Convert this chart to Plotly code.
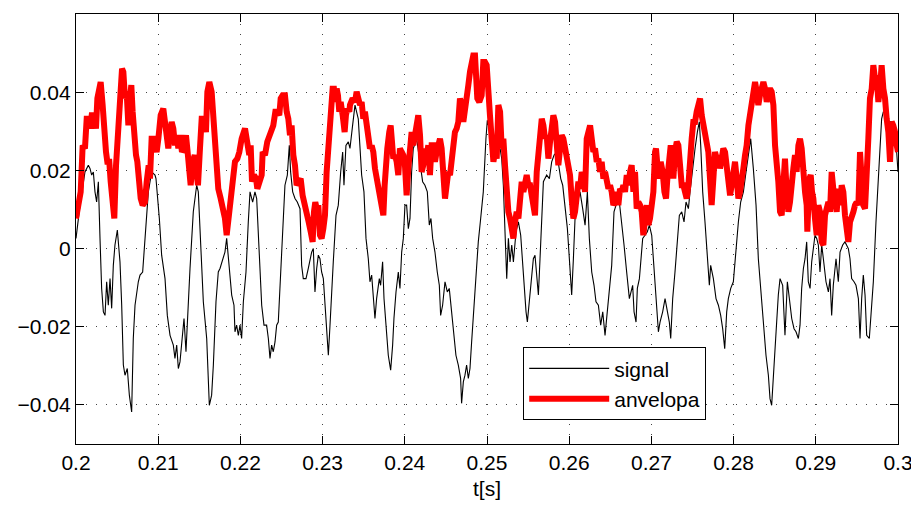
import plotly.graph_objects as go

# ---- data (t in seconds, amplitude) ----
signal_t = [
    0.20000, 0.20049, 0.20109, 0.20150, 0.20170, 0.20191, 0.20211, 0.20231, 0.20251, 0.20272,
    0.20292, 0.20312, 0.20333, 0.20353, 0.20373, 0.20393, 0.20414, 0.20434, 0.20454, 0.20474,
    0.20503, 0.20535, 0.20556, 0.20576, 0.20596, 0.20624, 0.20649, 0.20677, 0.20697, 0.20718,
    0.20758, 0.20779, 0.20811, 0.20839, 0.20880, 0.20920, 0.20961, 0.20973, 0.20989, 0.21014,
    0.21042, 0.21083, 0.21111, 0.21144, 0.21184, 0.21204, 0.21225, 0.21245, 0.21265, 0.21285,
    0.21314, 0.21338, 0.21367, 0.21387, 0.21427, 0.21468, 0.21488, 0.21517, 0.21549, 0.21590,
    0.21622,
    0.21650, 0.21671, 0.21703, 0.21731, 0.21752, 0.21792, 0.21812, 0.21833, 0.21865, 0.21894,
    0.21922, 0.21934, 0.21954, 0.21975, 0.21995, 0.22015, 0.22036, 0.22068, 0.22096, 0.22117,
    0.22149, 0.22177, 0.22198, 0.22218, 0.22238, 0.22259, 0.22287, 0.22319, 0.22340, 0.22360,
    0.22380, 0.22400, 0.22421, 0.22441, 0.22461, 0.22482, 0.22502, 0.22522, 0.22542, 0.22571,
    0.22595, 0.22611, 0.22636, 0.22664, 0.22692, 0.22725, 0.22745, 0.22765, 0.22798, 0.22826,
    0.22847, 0.22867, 0.22887, 0.22907, 0.22928, 0.22948, 0.22968, 0.22988, 0.23009, 0.23029,
    0.23049, 0.23070, 0.23090, 0.23110, 0.23130, 0.23163, 0.23191, 0.23220, 0.23244, 0.23260,
    0.23284, 0.23313,
    0.23333, 0.23365, 0.23394, 0.23434, 0.23455, 0.23475, 0.23503, 0.23528, 0.23556, 0.23576,
    0.23597, 0.23617, 0.23637, 0.23657, 0.23690, 0.23706, 0.23730, 0.23747, 0.23771, 0.23799,
    0.23828, 0.23852, 0.23868, 0.23893, 0.23921, 0.23941, 0.23962, 0.23982, 0.24002, 0.24022,
    0.24043, 0.24063, 0.24083, 0.24103, 0.24144, 0.24164, 0.24193, 0.24217, 0.24245, 0.24274,
    0.24298, 0.24318, 0.24339, 0.24367, 0.24395, 0.24420, 0.24436, 0.24460, 0.24489, 0.24517,
    0.24541, 0.24562, 0.24590, 0.24622, 0.24651, 0.24679, 0.24691, 0.24712, 0.24732, 0.24752,
    0.24773, 0.24793, 0.24813, 0.24833, 0.24866, 0.24894, 0.24923, 0.24955, 0.24987, 0.25004,
    0.25036,
    0.25078, 0.25118, 0.25159, 0.25179, 0.25199, 0.25219, 0.25240, 0.25260, 0.25280, 0.25301,
    0.25321, 0.25353, 0.25382, 0.25410, 0.25434, 0.25451, 0.25475, 0.25491, 0.25515, 0.25544,
    0.25564, 0.25584, 0.25605, 0.25625, 0.25645, 0.25666, 0.25686, 0.25726, 0.25759, 0.25787,
    0.25816, 0.25848, 0.25880, 0.25897, 0.25921, 0.25949, 0.25978, 0.26002, 0.26018, 0.26030,
    0.26051, 0.26071, 0.26099, 0.26132, 0.26164, 0.26193, 0.26221, 0.26245, 0.26274, 0.26302,
    0.26326, 0.26355, 0.26383, 0.26408, 0.26436, 0.26456, 0.26489, 0.26517, 0.26545, 0.26570,
    0.26610, 0.26639, 0.26667, 0.26699, 0.26732,
    0.26772, 0.26789, 0.26813, 0.26829, 0.26854, 0.26870, 0.26894, 0.26922, 0.26951, 0.26975,
    0.27004, 0.27032, 0.27064, 0.27085, 0.27105, 0.27137, 0.27166, 0.27194, 0.27218, 0.27235,
    0.27259, 0.27287, 0.27316, 0.27340, 0.27369, 0.27397, 0.27421, 0.27450, 0.27470, 0.27502,
    0.27531, 0.27559, 0.27583, 0.27600, 0.27624, 0.27652, 0.27681, 0.27705, 0.27721, 0.27754,
    0.27786, 0.27815, 0.27843, 0.27867, 0.27892, 0.27916, 0.27936, 0.27965, 0.27997, 0.28029,
    0.28058, 0.28086, 0.28119, 0.28151, 0.28180, 0.28208, 0.28240, 0.28273, 0.28301, 0.28330,
    0.28362, 0.28394, 0.28423,
    0.28443, 0.28463, 0.28484, 0.28504, 0.28524, 0.28544, 0.28565, 0.28597, 0.28625, 0.28654,
    0.28678, 0.28707, 0.28735, 0.28759, 0.28788, 0.28808, 0.28828, 0.28849, 0.28869, 0.28889,
    0.28909, 0.28930, 0.28950, 0.28970, 0.28990, 0.29011, 0.29031, 0.29051, 0.29072, 0.29092,
    0.29124, 0.29153, 0.29173, 0.29193, 0.29213, 0.29246, 0.29274, 0.29295, 0.29327, 0.29355,
    0.29396, 0.29416, 0.29436, 0.29465, 0.29489, 0.29518, 0.29538, 0.29558, 0.29578, 0.29599,
    0.29619, 0.29651, 0.29680, 0.29700, 0.29732, 0.29761, 0.29781, 0.29801, 0.29822, 0.29854,
    0.29870, 0.29895, 0.29923, 0.29943, 0.29964, 0.29984, 0.30000,
]
signal_y = [
    0.0026, 0.0111, 0.0196, 0.0213, 0.0205, 0.0188, 0.0196, 0.0145, 0.0119, 0.0171,
    0.0026, -0.0102, -0.0162, -0.0171, -0.0085, -0.0145, -0.0077, -0.0153, -0.0043, 0.0009,
    0.0047, -0.0034, -0.0145, -0.0298, -0.0324, -0.0307, -0.0375, -0.0418, -0.0230, -0.0145,
    -0.0085, -0.0068, -0.0060, 0.0026, 0.0145, 0.0196, 0.0188, 0.0179, 0.0145, 0.0077,
    -0.0017, -0.0077, -0.0171, -0.0222, -0.0247, -0.0281, -0.0247, -0.0307, -0.0290, -0.0239,
    -0.0179, -0.0264, -0.0128, -0.0051, 0.0094, 0.0162, 0.0145, 0.0026, -0.0136, -0.0230,
    -0.0401,
    -0.0375, -0.0298, -0.0136, -0.0060, -0.0051, -0.0026, -0.0009, 0.0026, -0.0060, -0.0119,
    -0.0145, -0.0213, -0.0196, -0.0222, -0.0196, -0.0230, -0.0136, -0.0060, 0.0068, 0.0145,
    0.0119, 0.0145, 0.0128, 0.0043, -0.0043, -0.0145, -0.0196, -0.0196, -0.0230, -0.0281,
    -0.0247, -0.0264, -0.0239, -0.0196, -0.0188, -0.0094, -0.0017, 0.0077, 0.0162, 0.0188,
    0.0264, 0.0196, 0.0145, 0.0128, 0.0119, 0.0102, -0.0043, -0.0077, -0.0077, -0.0051,
    -0.0026, -0.0009, 0.0000, -0.0111, -0.0051, -0.0017, -0.0026, -0.0060, -0.0077, -0.0145,
    -0.0196, -0.0273, -0.0196, -0.0102, -0.0034, 0.0085, 0.0111, 0.0196, 0.0247, 0.0162,
    0.0264, 0.0273,
    0.0256, 0.0315, 0.0367, 0.0332, 0.0264, 0.0188, 0.0145, 0.0026, -0.0026, -0.0085,
    -0.0068, -0.0128, -0.0179, -0.0128, -0.0077, -0.0094, -0.0034, -0.0128, -0.0196, -0.0273,
    -0.0311, -0.0247, -0.0179, -0.0111, -0.0060, -0.0102, -0.0009, 0.0026, 0.0111, 0.0111,
    0.0051, 0.0077, 0.0196, 0.0256, 0.0281, 0.0247, 0.0205, 0.0171, 0.0162, 0.0145,
    0.0060, 0.0077, 0.0026, -0.0009, -0.0060, -0.0094, -0.0171, -0.0145, -0.0085, -0.0111,
    -0.0102, -0.0145, -0.0196, -0.0273, -0.0298, -0.0332, -0.0396, -0.0341, -0.0324, -0.0298,
    -0.0332, -0.0307, -0.0239, -0.0179, -0.0060, 0.0017, 0.0077, 0.0145, 0.0281, 0.0328,
    0.0298,
    0.0239, 0.0247, 0.0256, 0.0230, 0.0162, 0.0043, -0.0077, 0.0026, -0.0034, 0.0009,
    -0.0034, 0.0043, 0.0068, 0.0034, -0.0043, -0.0094, -0.0162, -0.0188, -0.0128, -0.0077,
    -0.0026, -0.0017, -0.0060, -0.0119, -0.0026, 0.0094, 0.0171, 0.0188, 0.0179, 0.0222,
    0.0239, 0.0247, 0.0196, 0.0179, 0.0162, 0.0102, 0.0051, -0.0026, -0.0094, -0.0119,
    -0.0026, 0.0077, 0.0119, 0.0145, 0.0102, 0.0060, 0.0145, 0.0026, -0.0060, -0.0094,
    -0.0136, -0.0145, -0.0196, -0.0162, -0.0222, -0.0179, -0.0111, -0.0043, 0.0094, 0.0111,
    0.0119, 0.0068, 0.0009, -0.0060, -0.0128,
    -0.0094, -0.0162, -0.0188, -0.0102, -0.0077, -0.0026, 0.0026, 0.0034, 0.0043, 0.0060,
    0.0034, -0.0051, -0.0145, -0.0213, -0.0188, -0.0162, -0.0128, -0.0162, -0.0188, -0.0230,
    -0.0128, -0.0060, 0.0009, 0.0085, 0.0094, 0.0068, 0.0119, 0.0102, 0.0145, 0.0213,
    0.0256, 0.0298, 0.0324, 0.0264, 0.0145, 0.0068, -0.0026, -0.0094, -0.0043, -0.0077,
    -0.0128, -0.0145, -0.0171, -0.0205, -0.0256, -0.0162, -0.0128, -0.0102, -0.0085, 0.0000,
    0.0068, 0.0119, 0.0145, 0.0196, 0.0247, 0.0281, 0.0205, 0.0111, -0.0026, -0.0102,
    -0.0171, -0.0273, -0.0324,
    -0.0384, -0.0401, -0.0315, -0.0247, -0.0188, -0.0119, -0.0077, -0.0094, -0.0222, -0.0085,
    -0.0128, -0.0179, -0.0205, -0.0213, -0.0230, -0.0196, -0.0102, -0.0051, -0.0026, 0.0017,
    -0.0085, -0.0102, -0.0034, 0.0009, 0.0034, 0.0026, 0.0009, -0.0060, 0.0009, -0.0026,
    -0.0085, -0.0111, -0.0077, -0.0171, -0.0094, -0.0026, -0.0085, -0.0009, 0.0009, 0.0017,
    0.0000, -0.0026, -0.0077, -0.0085, -0.0094, -0.0128, -0.0230, -0.0128, -0.0068, -0.0119,
    -0.0222, -0.0230, -0.0145, -0.0085, 0.0068, 0.0179, 0.0230, 0.0332, 0.0350, 0.0341,
    0.0315, 0.0324, 0.0324, 0.0281, 0.0264, 0.0247, 0.0196,
]

envelope_t = [
    0.20000, 0.20028, 0.20057, 0.20081, 0.20109, 0.20130, 0.20150, 0.20170, 0.20191, 0.20219,
    0.20243, 0.20260, 0.20284, 0.20300, 0.20324, 0.20341, 0.20365, 0.20381, 0.20405, 0.20422,
    0.20446, 0.20466, 0.20487, 0.20503, 0.20527, 0.20543, 0.20560, 0.20576, 0.20596, 0.20616,
    0.20637, 0.20657, 0.20673, 0.20689, 0.20706, 0.20730, 0.20746, 0.20762, 0.20787, 0.20811,
    0.20839, 0.20860, 0.20884, 0.20900, 0.20920, 0.20941, 0.20961, 0.20981, 0.21002, 0.21030,
    0.21062, 0.21083, 0.21103, 0.21123, 0.21144, 0.21164, 0.21184, 0.21204, 0.21225, 0.21245,
    0.21265, 0.21289, 0.21314, 0.21338, 0.21354, 0.21371, 0.21395, 0.21419, 0.21444, 0.21460,
    0.21484, 0.21508, 0.21529, 0.21557, 0.21581, 0.21598, 0.21622,
    0.21650, 0.21671, 0.21691, 0.21711, 0.21731, 0.21760, 0.21792, 0.21812, 0.21833, 0.21853,
    0.21873, 0.21894, 0.21914, 0.21934, 0.21963, 0.21987, 0.22015, 0.22036, 0.22056, 0.22076,
    0.22108, 0.22125, 0.22141, 0.22165, 0.22190, 0.22206, 0.22230, 0.22259, 0.22271, 0.22299,
    0.22327, 0.22352, 0.22380, 0.22400, 0.22425, 0.22449, 0.22473, 0.22490, 0.22514, 0.22542,
    0.22563, 0.22583, 0.22603, 0.22623, 0.22644, 0.22664, 0.22684, 0.22705, 0.22733, 0.22757,
    0.22786, 0.22806, 0.22830, 0.22855, 0.22879, 0.22895, 0.22911, 0.22928, 0.22948, 0.22968,
    0.22988, 0.23009, 0.23029, 0.23049, 0.23070, 0.23090, 0.23106, 0.23122, 0.23138, 0.23155,
    0.23171, 0.23187, 0.23203, 0.23220, 0.23244, 0.23268, 0.23284, 0.23301, 0.23325,
    0.23333, 0.23365, 0.23394, 0.23414, 0.23434, 0.23455, 0.23475, 0.23495, 0.23515, 0.23536,
    0.23556, 0.23576, 0.23597, 0.23617, 0.23637, 0.23657, 0.23678, 0.23698, 0.23718, 0.23739,
    0.23755, 0.23771, 0.23787, 0.23811, 0.23828, 0.23844, 0.23860, 0.23880, 0.23901, 0.23921,
    0.23941, 0.23962, 0.23982, 0.24002, 0.24022, 0.24043, 0.24063, 0.24083, 0.24103, 0.24124,
    0.24144, 0.24164, 0.24185, 0.24205, 0.24225, 0.24245, 0.24266, 0.24286, 0.24306, 0.24326,
    0.24347, 0.24367, 0.24387, 0.24408, 0.24428, 0.24448, 0.24468, 0.24489, 0.24509, 0.24529,
    0.24550, 0.24570, 0.24590, 0.24610, 0.24631, 0.24651, 0.24671, 0.24691, 0.24712, 0.24732,
    0.24752, 0.24773, 0.24793, 0.24813, 0.24833, 0.24854, 0.24866, 0.24882, 0.24906, 0.24935,
    0.24955, 0.24975, 0.24996, 0.25016, 0.25036,
    0.25057, 0.25078, 0.25098, 0.25118, 0.25138, 0.25159, 0.25179, 0.25199, 0.25219, 0.25240,
    0.25260, 0.25280, 0.25301, 0.25321, 0.25341, 0.25361, 0.25382, 0.25402, 0.25422, 0.25443,
    0.25463, 0.25483, 0.25503, 0.25524, 0.25544, 0.25564, 0.25584, 0.25605, 0.25625, 0.25645,
    0.25666, 0.25686, 0.25706, 0.25726, 0.25747, 0.25767, 0.25787, 0.25807, 0.25828, 0.25848,
    0.25868, 0.25889, 0.25909, 0.25929, 0.25949, 0.25970, 0.25990, 0.26010, 0.26030, 0.26051,
    0.26071, 0.26091, 0.26112, 0.26132, 0.26152, 0.26172, 0.26193, 0.26213, 0.26233, 0.26254,
    0.26274, 0.26294, 0.26314, 0.26335, 0.26355, 0.26375, 0.26395, 0.26416, 0.26436, 0.26456,
    0.26477, 0.26497, 0.26517, 0.26537, 0.26558, 0.26578, 0.26598, 0.26618, 0.26639, 0.26659,
    0.26679, 0.26700, 0.26720,
    0.26740, 0.26760, 0.26781, 0.26801, 0.26821, 0.26841, 0.26862, 0.26882, 0.26902, 0.26922,
    0.26943, 0.26963, 0.26983, 0.27004, 0.27024, 0.27044, 0.27056, 0.27073, 0.27097, 0.27113,
    0.27137, 0.27158, 0.27178, 0.27194, 0.27218, 0.27235, 0.27251, 0.27267, 0.27287, 0.27308,
    0.27328, 0.27348, 0.27369, 0.27389, 0.27409, 0.27429, 0.27450, 0.27470, 0.27490, 0.27510,
    0.27531, 0.27551, 0.27571, 0.27592, 0.27612, 0.27632, 0.27652, 0.27673, 0.27693, 0.27713,
    0.27733, 0.27754, 0.27774, 0.27794, 0.27815, 0.27835, 0.27855, 0.27875, 0.27896, 0.27916,
    0.27936, 0.27957, 0.27977, 0.27997, 0.28017, 0.28038, 0.28058, 0.28078, 0.28098, 0.28119,
    0.28139, 0.28159, 0.28180, 0.28200, 0.28220, 0.28240, 0.28261, 0.28281, 0.28301, 0.28321,
    0.28342, 0.28362, 0.28382, 0.28403, 0.28423,
    0.28443, 0.28463, 0.28484, 0.28504, 0.28524, 0.28544, 0.28565, 0.28585, 0.28605, 0.28625,
    0.28646, 0.28666, 0.28686, 0.28707, 0.28727, 0.28747, 0.28767, 0.28788, 0.28808, 0.28828,
    0.28849, 0.28869, 0.28889, 0.28897, 0.28922, 0.28938, 0.28954, 0.28970, 0.28990, 0.29011,
    0.29031, 0.29051, 0.29072, 0.29092, 0.29112, 0.29132, 0.29153, 0.29173, 0.29193, 0.29213,
    0.29234, 0.29254, 0.29274, 0.29295, 0.29315, 0.29335, 0.29355, 0.29376, 0.29396, 0.29416,
    0.29436, 0.29457, 0.29477, 0.29497, 0.29518, 0.29538, 0.29558, 0.29578, 0.29599, 0.29619,
    0.29639, 0.29659, 0.29680, 0.29700, 0.29720, 0.29741, 0.29761, 0.29781, 0.29801, 0.29822,
    0.29842, 0.29862, 0.29883, 0.29903, 0.29923, 0.29943, 0.29964, 0.29984, 0.30000,
]
envelope_y = [
    0.0077, 0.0111, 0.0145, 0.0264, 0.0256, 0.0332, 0.0332, 0.0307, 0.0341, 0.0341,
    0.0307, 0.0384, 0.0418, 0.0426, 0.0367, 0.0298, 0.0247, 0.0222, 0.0222, 0.0171,
    0.0094, 0.0077, 0.0213, 0.0281, 0.0341, 0.0409, 0.0460, 0.0452, 0.0384, 0.0401,
    0.0315, 0.0384, 0.0418, 0.0350, 0.0281, 0.0239, 0.0222, 0.0179, 0.0128, 0.0111,
    0.0119, 0.0171, 0.0213, 0.0179, 0.0281, 0.0281, 0.0256, 0.0247, 0.0281, 0.0341,
    0.0358, 0.0315, 0.0307, 0.0256, 0.0298, 0.0324, 0.0307, 0.0264, 0.0290, 0.0256,
    0.0290, 0.0247, 0.0256, 0.0290, 0.0256, 0.0188, 0.0162, 0.0222, 0.0239, 0.0205,
    0.0162, 0.0256, 0.0332, 0.0332, 0.0298, 0.0401, 0.0426,
    0.0401, 0.0324, 0.0264, 0.0222, 0.0153, 0.0128, 0.0094, 0.0077, 0.0034, 0.0077,
    0.0111, 0.0145, 0.0196, 0.0222, 0.0230, 0.0247, 0.0281, 0.0298, 0.0307, 0.0281,
    0.0239, 0.0264, 0.0171, 0.0188, 0.0179, 0.0153, 0.0171, 0.0188, 0.0247, 0.0239,
    0.0273, 0.0290, 0.0298, 0.0315, 0.0350, 0.0350, 0.0341, 0.0384, 0.0392, 0.0392,
    0.0350, 0.0332, 0.0290, 0.0315, 0.0239, 0.0213, 0.0162, 0.0171, 0.0179, 0.0136,
    0.0102, 0.0085, 0.0068, 0.0043, 0.0017, 0.0094, 0.0119, 0.0102, 0.0111, 0.0034,
    0.0026, 0.0051, 0.0085, 0.0196, 0.0264, 0.0332, 0.0367, 0.0409, 0.0409, 0.0375,
    0.0409, 0.0392, 0.0350, 0.0375, 0.0341, 0.0298, 0.0341, 0.0358, 0.0350,
    0.0367, 0.0384, 0.0375, 0.0401, 0.0384, 0.0367, 0.0375, 0.0332, 0.0350, 0.0315,
    0.0290, 0.0256, 0.0264, 0.0247, 0.0205, 0.0179, 0.0145, 0.0119, 0.0094, 0.0085,
    0.0162, 0.0230, 0.0256, 0.0298, 0.0315, 0.0273, 0.0230, 0.0239, 0.0222, 0.0188,
    0.0256, 0.0247, 0.0239, 0.0213, 0.0136, 0.0205, 0.0273, 0.0298, 0.0264, 0.0290,
    0.0324, 0.0341, 0.0290, 0.0196, 0.0213, 0.0256, 0.0239, 0.0264, 0.0188, 0.0264,
    0.0264, 0.0222, 0.0247, 0.0264, 0.0281, 0.0256, 0.0205, 0.0128, 0.0162, 0.0196,
    0.0188, 0.0222, 0.0273, 0.0298, 0.0307, 0.0324, 0.0384, 0.0367, 0.0324, 0.0367,
    0.0375, 0.0418, 0.0452, 0.0486, 0.0494, 0.0494, 0.0418, 0.0384, 0.0375, 0.0392,
    0.0477, 0.0477, 0.0469, 0.0367, 0.0341,
    0.0281, 0.0222, 0.0247, 0.0230, 0.0367, 0.0350, 0.0256, 0.0281, 0.0213, 0.0145,
    0.0094, 0.0077, 0.0043, 0.0026, 0.0068, 0.0094, 0.0077, 0.0145, 0.0171, 0.0145,
    0.0179, 0.0188, 0.0162, 0.0162, 0.0136, 0.0094, 0.0085, 0.0196, 0.0247, 0.0298,
    0.0332, 0.0315, 0.0281, 0.0290, 0.0230, 0.0273, 0.0298, 0.0341, 0.0324, 0.0264,
    0.0213, 0.0256, 0.0290, 0.0281, 0.0256, 0.0247, 0.0222, 0.0188, 0.0128, 0.0077,
    0.0094, 0.0145, 0.0171, 0.0153, 0.0196, 0.0179, 0.0145, 0.0281, 0.0307, 0.0315,
    0.0281, 0.0247, 0.0256, 0.0222, 0.0230, 0.0196, 0.0222, 0.0179, 0.0196, 0.0171,
    0.0153, 0.0162, 0.0145, 0.0111, 0.0119, 0.0145, 0.0111, 0.0153, 0.0145, 0.0162,
    0.0145, 0.0188, 0.0162,
    0.0196, 0.0213, 0.0145, 0.0196, 0.0102, 0.0119, 0.0111, 0.0094, 0.0034, 0.0077,
    0.0111, 0.0060, 0.0077, 0.0111, 0.0145, 0.0247, 0.0256, 0.0213, 0.0179, 0.0222,
    0.0196, 0.0145, 0.0128, 0.0179, 0.0222, 0.0264, 0.0222, 0.0179, 0.0247, 0.0273,
    0.0264, 0.0205, 0.0162, 0.0162, 0.0145, 0.0128, 0.0162, 0.0247, 0.0281, 0.0324,
    0.0324, 0.0350, 0.0375, 0.0384, 0.0341, 0.0315, 0.0281, 0.0264, 0.0247, 0.0179,
    0.0111, 0.0179, 0.0247, 0.0230, 0.0239, 0.0205, 0.0239, 0.0256, 0.0247, 0.0196,
    0.0145, 0.0136, 0.0162, 0.0196, 0.0222, 0.0179, 0.0128, 0.0145, 0.0196, 0.0205,
    0.0239, 0.0264, 0.0315, 0.0350, 0.0384, 0.0418, 0.0426, 0.0401, 0.0367, 0.0392,
    0.0418, 0.0426, 0.0409, 0.0375, 0.0401,
    0.0409, 0.0401, 0.0367, 0.0264, 0.0230, 0.0171, 0.0094, 0.0085, 0.0162, 0.0230,
    0.0145, 0.0094, 0.0119, 0.0196, 0.0205, 0.0239, 0.0196, 0.0264, 0.0281, 0.0256,
    0.0162, 0.0145, 0.0111, 0.0043, 0.0179, 0.0188, 0.0145, 0.0128, 0.0077, 0.0034,
    0.0111, 0.0094, 0.0017, 0.0009, 0.0085, 0.0111, 0.0119, 0.0094, 0.0196, 0.0153,
    0.0119, 0.0094, 0.0153, 0.0111, 0.0162, 0.0145, 0.0085, 0.0026, 0.0017, 0.0068,
    0.0077, 0.0094, 0.0111, 0.0119, 0.0111, 0.0247, 0.0179, 0.0111, 0.0102, 0.0264,
    0.0281, 0.0384, 0.0409, 0.0469, 0.0435, 0.0443, 0.0375, 0.0409, 0.0469, 0.0409,
    0.0384, 0.0332, 0.0298, 0.0222, 0.0324, 0.0315, 0.0298, 0.0264, 0.0247,
]

x_ticks = [0.2, 0.21, 0.22, 0.23, 0.24, 0.25, 0.26, 0.27, 0.28, 0.29, 0.3]
x_tick_labels = ["0.2", "0.21", "0.22", "0.23", "0.24", "0.25", "0.26", "0.27", "0.28", "0.29", "0.3"]
y_ticks = [-0.04, -0.02, 0.0, 0.02, 0.04]
y_tick_labels = ["\u22120.04", "\u22120.02", "0", "0.02", "0.04"]

n_s = min(len(signal_t), len(signal_y))
n_e = min(len(envelope_t), len(envelope_y))

FONT = "Liberation Sans, Arial, Helvetica, sans-serif"

fig = go.Figure()
fig.add_trace(go.Scatter(
    x=signal_t[:n_s], y=signal_y[:n_s], mode="lines", name="signal",
    line=dict(color="black", width=1.1),
))
fig.add_trace(go.Scatter(
    x=envelope_t[:n_e], y=envelope_y[:n_e], mode="lines", name="anvelopa",
    line=dict(color="#ff0000", width=6),
))

axis_common = dict(
    showline=True, linecolor="black", linewidth=1.2, mirror="allticks",
    ticks="inside", ticklen=8, tickwidth=1, tickcolor="black",
    showgrid=True, gridcolor="#444444", gridwidth=1, griddash="1px,9px",
    zeroline=False, automargin=False,
    tickfont=dict(family=FONT, size=21, color="black"),
)

# the page body adds an 8px offset; the figure is sized so the plot area
# lands where the reference has it
fig.update_layout(
    width=911, height=506,
    margin=dict(l=68, r=21, t=6, b=70),
    paper_bgcolor="white", plot_bgcolor="white",
    font=dict(family=FONT, size=21, color="black"),
    xaxis=dict(range=[0.2, 0.3], tickvals=x_ticks, ticktext=x_tick_labels,
               title=dict(text="t[s]", font=dict(family=FONT, size=21), standoff=8),
               **axis_common),
    yaxis=dict(range=[-0.05, 0.06], tickvals=y_ticks, ticktext=y_tick_labels,
               **axis_common),
    legend=dict(x=0.5438, y=0.2256, xanchor="left", yanchor="top",
                bgcolor="white", bordercolor="black", borderwidth=1.2,
                font=dict(family=FONT, size=21, color="black"),
                itemwidth=80, tracegroupgap=0),
    showlegend=True,
)

fig.write_html("out.html")
